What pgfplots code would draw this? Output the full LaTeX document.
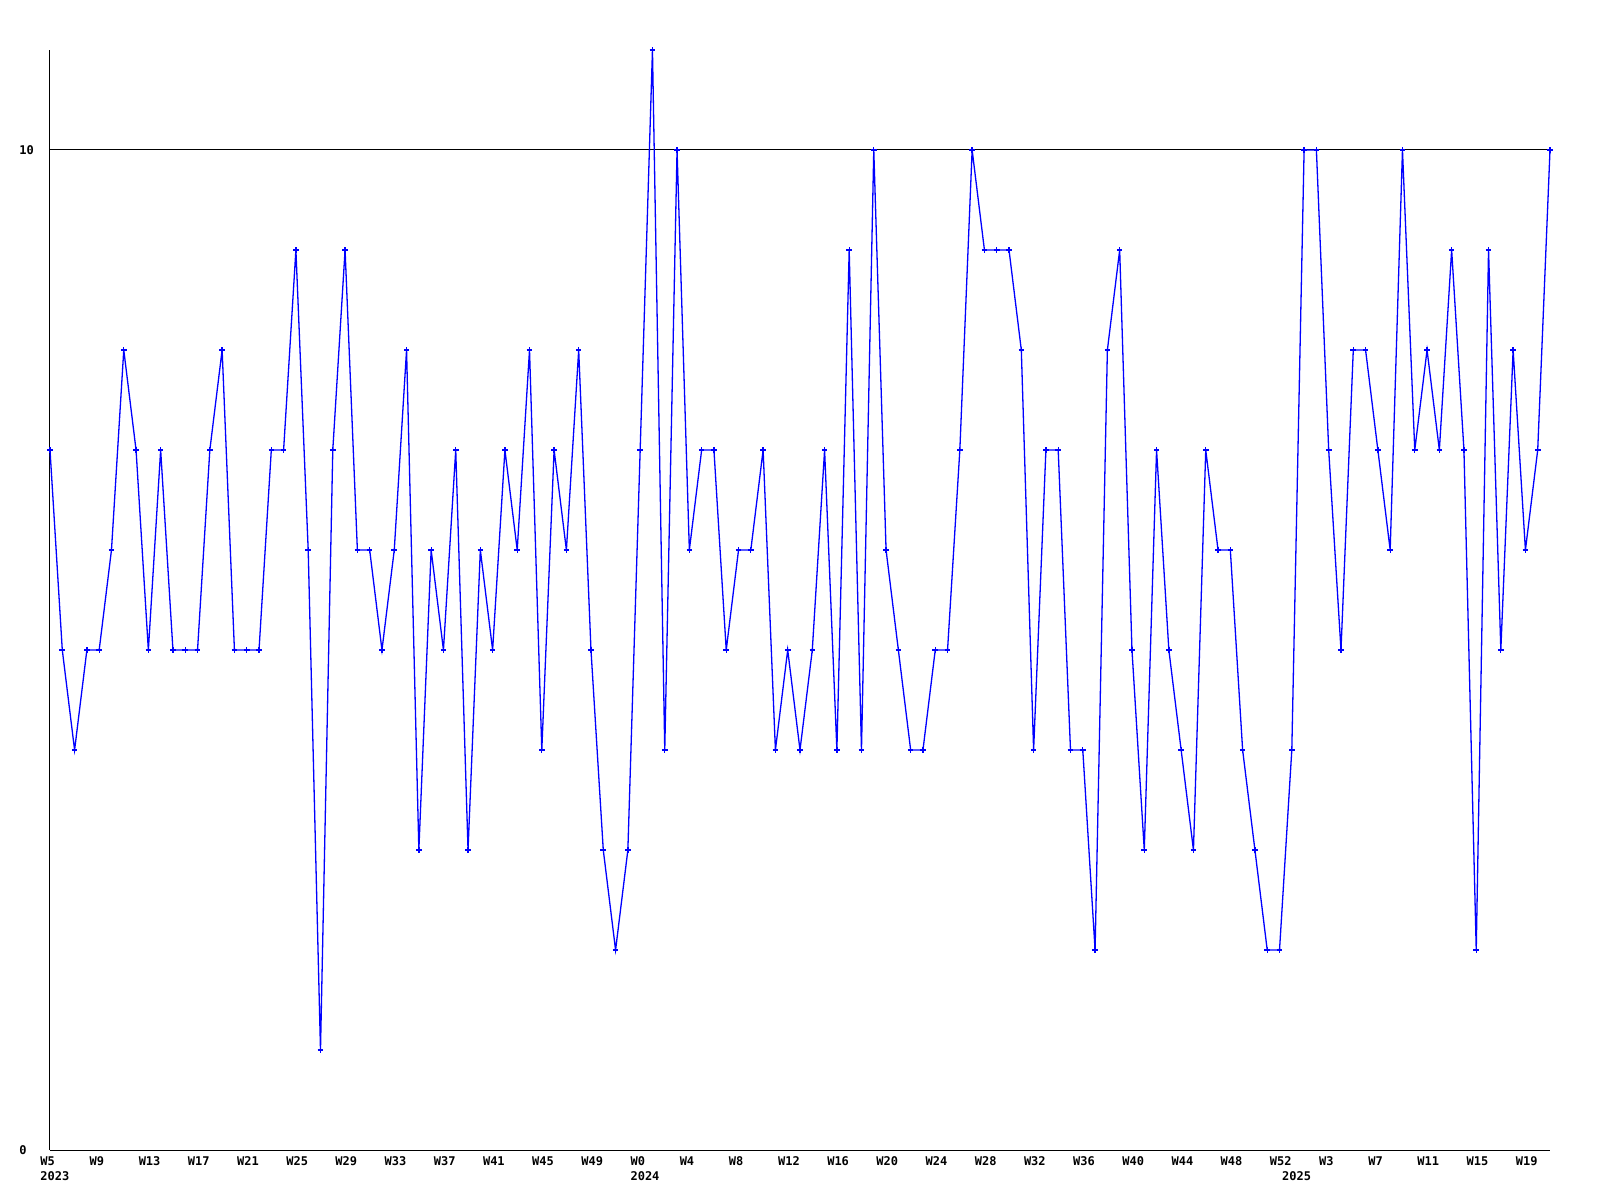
\documentclass[border=0pt]{standalone}
\usepackage{fontspec}
\setmonofont{DejaVu Sans Mono}
\usepackage{pgfplots}
\pgfplotsset{compat=1.18}
\begin{document}
\begin{tikzpicture}
\begin{axis}[
  scale only axis,
  width=750pt, height=550pt,
  xmin=0, xmax=122, ymin=0, ymax=11,
  axis x line=bottom, axis y line=left,
  axis line style={-, black, line width=0.5pt},
  clip=false,
  major tick length=0pt,
  font=\fontsize{6pt}{7pt}\selectfont\ttfamily\bfseries,
  xtick={0,4,8,12,16,20,24,28,32,36,40,44,48,52,56,60,64,68,72,76,80,84,88,92,96,100,104,108,112,116,120},
  xticklabels={W5,W9,W13,W17,W21,W25,W29,W33,W37,W41,W45,W49,W0,W4,W8,W12,W16,W20,W24,W28,W32,W36,W40,W44,W48,W52,W3,W7,W11,W15,W19},
  xticklabel style={anchor=north west, inner sep=0pt, xshift=-5pt, yshift=-3pt},
  extra x ticks={0,48,101},
  extra x tick labels={2023,2024,2025},
  extra x tick style={xticklabel style={yshift=-7.5pt}},
  ytick={0,10}, yticklabels={0,10},
  yticklabel style={anchor=west, inner sep=0pt, xshift=-15.5pt},
  ymajorgrids, grid style={black, line width=0.5pt},
]
\addplot[color=blue, line width=0.65pt, mark=+, mark size=1.4pt, mark options={line width=0.65pt}] coordinates {
(0,7)(1,5)(2,4)(3,5)(4,5)(5,6)(6,8)(7,7)(8,5)(9,7)
(10,5)(11,5)(12,5)(13,7)(14,8)(15,5)(16,5)(17,5)(18,7)(19,7)
(20,9)(21,6)(22,1)(23,7)(24,9)(25,6)(26,6)(27,5)(28,6)(29,8)
(30,3)(31,6)(32,5)(33,7)(34,3)(35,6)(36,5)(37,7)(38,6)(39,8)
(40,4)(41,7)(42,6)(43,8)(44,5)(45,3)(46,2)(47,3)(48,7)(49,11)
(50,4)(51,10)(52,6)(53,7)(54,7)(55,5)(56,6)(57,6)(58,7)(59,4)
(60,5)(61,4)(62,5)(63,7)(64,4)(65,9)(66,4)(67,10)(68,6)(69,5)
(70,4)(71,4)(72,5)(73,5)(74,7)(75,10)(76,9)(77,9)(78,9)(79,8)
(80,4)(81,7)(82,7)(83,4)(84,4)(85,2)(86,8)(87,9)(88,5)(89,3)
(90,7)(91,5)(92,4)(93,3)(94,7)(95,6)(96,6)(97,4)(98,3)(99,2)
(100,2)(101,4)(102,10)(103,10)(104,7)(105,5)(106,8)(107,8)(108,7)(109,6)
(110,10)(111,7)(112,8)(113,7)(114,9)(115,7)(116,2)(117,9)(118,5)(119,8)
(120,6)(121,7)(122,10)
};
\end{axis}
\path ([xshift=-25pt,yshift=-25pt]current axis.south west) rectangle ([xshift=25pt,yshift=25pt]current axis.north east);
\end{tikzpicture}
\end{document}
